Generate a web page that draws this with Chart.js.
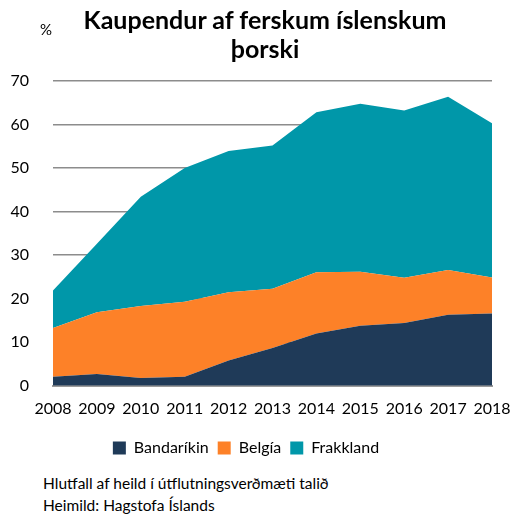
<!DOCTYPE html>
<html>
<head>
<meta charset="utf-8">
<script src="https://cdn.jsdelivr.net/npm/chart.js@4/dist/chart.umd.min.js"></script>
<style>
  html, body { margin: 0; padding: 0; background: #fff; }
  #wrap { position: relative; width: 525px; height: 515px; font-family: Lato, "Noto Sans", sans-serif; color: #000; }
  #c { position: absolute; left: 0; top: 0; }
  .t { position: absolute; white-space: nowrap; }
  #title { left: 0; width: 530px; top: 5px; text-align: center; font-weight: bold; font-size: 25px; line-height: 29px; }
  #pct { left: 40px; top: 20px; font-size: 15px; }
  #foot { left: 43px; top: 472px; font-size: 15.5px; line-height: 22px; }
</style>
</head>
<body>
<div id="wrap">
  <canvas id="c" width="525" height="470"></canvas>
  <div class="t" id="title">Kaupendur af ferskum íslenskum<br>þorski</div>
  <div class="t" id="pct">%</div>
  <div class="t" id="foot">Hlutfall af heild í útflutningsverðmæti talið<br>Heimild: Hagstofa Íslands</div>
</div>
<script>
const years = ["2008","2009","2010","2011","2012","2013","2014","2015","2016","2017","2018"];
const bandarikin = [2.1, 2.7, 1.8, 2.1, 5.8, 8.7, 12.0, 13.8, 14.4, 16.3, 16.6];
const belgia     = [11.2, 14.2, 16.5, 17.2, 15.7, 13.6, 14.1, 12.4, 10.4, 10.3, 8.3];
const frakkland  = [8.6, 15.7, 25.1, 30.7, 32.4, 32.9, 36.7, 38.6, 38.4, 39.8, 35.4];
const yTicks = [0, 10, 20, 30, 40, 50, 60, 70];

const ds = (label, data, color, fill) => ({
  label, data, backgroundColor: color, borderColor: color, borderWidth: 0,
  pointRadius: 0, fill, tension: 0
});

new Chart(document.getElementById('c'), {
  type: 'line',
  data: {
    labels: years,
    datasets: [
      ds('Bandaríkin', bandarikin, '#1F3A58', 'origin'),
      ds('Belgía', belgia, '#FD8128', '-1'),
      ds('Frakkland', frakkland, '#0097A9', '-1')
    ]
  },
  options: {
    responsive: false,
    animation: false,
    layout: { padding: { top: 81, right: 33, left: 0, bottom: 4 } },
    plugins: {
      legend: {
        position: 'bottom',
        labels: {
          boxWidth: 13, boxHeight: 13, padding: 9,
          color: '#000',
          font: { family: 'Lato', size: 16 }
        }
      },
      tooltip: { enabled: false }
    },
    scales: {
      x: {
        offset: false,
        grid: { display: false, drawTicks: false },
        border: { display: true, color: '#9a9a9a', width: 2 },
        ticks: { color: '#000', font: { family: 'Lato', size: 16 }, padding: 13, maxRotation: 0, autoSkip: false }
      },
      y: {
        stacked: true,
        min: 0, max: 70,
        afterBuildTicks: s => { s.ticks = yTicks.map(v => ({ value: v })); },
        afterFit: s => { s.width = 53; },
        grid: { color: '#8c8c8c', lineWidth: 1.5, drawTicks: false },
        border: { display: false },
        ticks: { color: '#000', font: { family: 'Lato', size: 16 }, padding: 24 }
      }
    }
  }
});
</script>
</body>
</html>
